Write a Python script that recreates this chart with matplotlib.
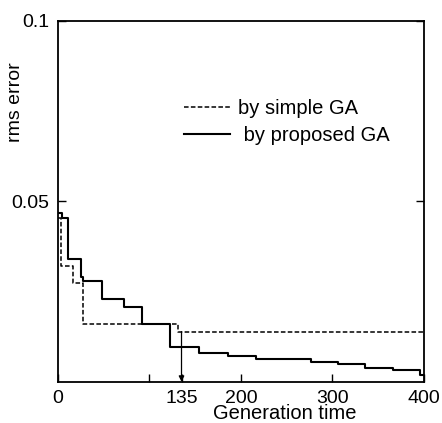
import numpy as np
import matplotlib.pyplot as plt

plt.rcParams["font.family"] = ["Liberation Sans", "DejaVu Sans"]

# ---- 数据（从图上读出的阶梯曲线） ----
gen_simple = [0, 3.6, 16.7, 27, 131.7, 400]
rms_simple = [0.0455, 0.0321, 0.0273, 0.0159, 0.0139, 0.0139]

gen_proposed = [0, 4, 10.5, 25, 27.5, 48.4, 72.1, 92.1, 122.4, 154.6,
                186, 216.4, 277, 306, 336, 366.5, 395.6, 400]
rms_proposed = [0.0469, 0.0454, 0.0339, 0.029, 0.028, 0.0229, 0.0208, 0.0159,
                0.0095, 0.0079, 0.0071, 0.0062, 0.0054, 0.0049, 0.0037,
                0.0032, 0.0020, 0.0020]

x_ticks = [0, 100, 135, 200, 300, 400]
x_tick_labels = ["0", "", "135", "200", "300", "400"]
y_ticks = [0.05, 0.1]
y_tick_labels = ["0.05", "0.1"]

fig = plt.figure(figsize=(4.42, 4.23), dpi=100)
ax = fig.add_axes([0.1312, 0.0976, 0.828, 0.8528])

ax.step(gen_simple, rms_simple, where="post", color="black", lw=1.1,
        ls=(0, (3, 1.5)), label="by simple GA")
ax.step(gen_proposed, rms_proposed, where="post", color="black", lw=1.5,
        label=" by proposed GA")

# 135 代处的箭头
ax.annotate("", xy=(135, 0), xytext=(135, rms_simple[-1]),
            arrowprops=dict(arrowstyle="-|>", lw=0.9, color="black",
                            mutation_scale=8, shrinkA=0, shrinkB=0))

ax.set_xlim(0, 400)
ax.set_ylim(0, 0.1)
ax.set_xticks(x_ticks)
ax.set_xticklabels(x_tick_labels)
ax.set_yticks(y_ticks)
ax.set_yticklabels(y_tick_labels)
ax.tick_params(direction="in", length=6, width=1.0, labelsize=14, pad=6,
               right=True)
for s in ax.spines.values():
    s.set_linewidth(1.3)

ax.text(-0.115, 0.775, "rms error", rotation=90, fontsize=14,
        ha="center", va="center", transform=ax.transAxes)
ax.text(0.62, -0.088, "Generation time", fontsize=14.5,
        ha="center", va="center", transform=ax.transAxes)

ax.legend(loc="upper left", bbox_to_anchor=(0.344, 0.783), frameon=False,
          fontsize=14.5, handlelength=2.3, handletextpad=0.4,
          labelspacing=0.4, borderaxespad=0, borderpad=0)

plt.savefig("out.png", dpi=100)
